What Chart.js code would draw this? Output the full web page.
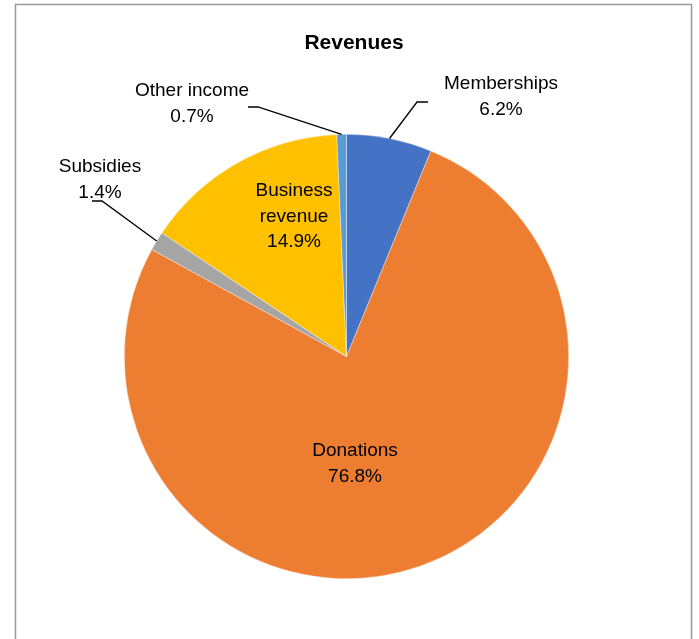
<!DOCTYPE html>
<html>
<head>
<meta charset="utf-8">
<script src="https://cdn.jsdelivr.net/npm/chart.js@4"></script>
<style>
  body { margin: 0; background: #fff; }
  #wrap { position: absolute; left: 0; top: 0; width: 699px; height: 639px; }
</style>
</head>
<body>
<div id="wrap"><canvas id="pie" width="699" height="639"></canvas></div>
<script>
// Daten (Prozentwerte aus dem Bild gelesen)
const kategorien = ["Memberships", "Donations", "Subsidies", "Business revenue", "Other income"];
const werte = [6.2, 76.8, 1.4, 14.9, 0.7];
const farben = ["#4472C4", "#ED7D31", "#A5A5A5", "#FFC000", "#5B9BD5"];

// Beschriftungen: Zeilen, Mittelpunkt der ersten Zeile, Knick der Führungslinie
const beschriftung = [
  { zeilen: ["Memberships", "6.2%"], x: 501, y: 84, linie: [[417, 102], [428, 102]] },
  { zeilen: ["Donations", "76.8%"], x: 355, y: 451 },
  { zeilen: ["Subsidies", "1.4%"], x: 100, y: 167, linie: [[102, 201], [92, 201]] },
  { zeilen: ["Business", "revenue", "14.9%"], x: 294, y: 191 },
  { zeilen: ["Other income", "0.7%"], x: 192, y: 91, linie: [[258, 107], [248, 107]] },
];

const schrift = "19px 'Liberation Sans', Arial, sans-serif";

const labelPlugin = {
  id: "labels",
  afterDraw(chart) {
    const ctx = chart.ctx;
    const meta = chart.getDatasetMeta(0);
    ctx.save();

    // Rahmen
    ctx.strokeStyle = "#999999";
    ctx.lineWidth = 1.5;
    ctx.strokeRect(15.5, 4.5, 676, 660);

    // Titel
    ctx.fillStyle = "#000";
    ctx.font = "bold 21px 'Liberation Sans', Arial, sans-serif";
    ctx.textAlign = "center";
    ctx.textBaseline = "middle";
    ctx.fillText("Revenues", 354, 43);

    ctx.font = schrift;
    beschriftung.forEach(function (b, i) {
      if (b.linie) {
        const arc = meta.data[i];
        const mitte = (arc.startAngle + arc.endAngle) / 2;
        const px = arc.x + Math.cos(mitte) * arc.outerRadius;
        const py = arc.y + Math.sin(mitte) * arc.outerRadius;
        ctx.strokeStyle = "#000";
        ctx.lineWidth = 1.3;
        ctx.beginPath();
        ctx.moveTo(px, py);
        b.linie.forEach(function (p) { ctx.lineTo(p[0], p[1]); });
        ctx.stroke();
      }
      ctx.fillStyle = "#000";
      b.zeilen.forEach(function (z, k) {
        ctx.fillText(z, b.x, b.y + k * 25.5);
      });
    });
    ctx.restore();
  },
};

new Chart(document.querySelector("#pie"), {
  type: "pie",
  data: {
    labels: kategorien,
    datasets: [
      {
        data: werte,
        backgroundColor: farben,
        borderColor: "rgba(255,255,255,0.6)",
        borderWidth: 0.6,
      },
    ],
  },
  options: {
    responsive: false,
    animation: false,
    devicePixelRatio: 1,
    layout: { padding: { left: 124, right: 130, top: 134, bottom: 60 } },
    plugins: {
      legend: { display: false },
      tooltip: { enabled: false },
      title: { display: false },
    },
  },
  plugins: [labelPlugin],
});
</script>
</body>
</html>
